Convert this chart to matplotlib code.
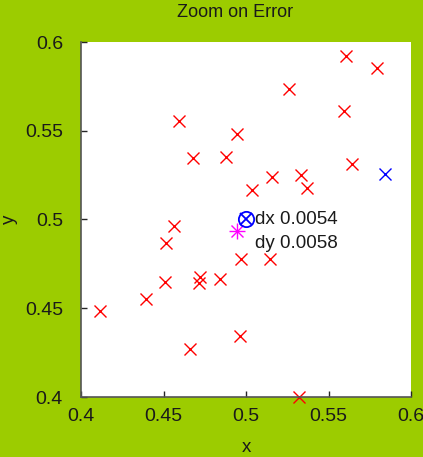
import matplotlib
matplotlib.use('Agg')
import matplotlib.pyplot as plt

# red samples
sample_x = [0.5606, 0.5794, 0.5261, 0.4594, 0.5594, 0.4945, 0.4679, 0.4879,
            0.5158, 0.5333, 0.5370, 0.5642, 0.5036, 0.4564, 0.4515, 0.4509,
            0.4721, 0.4715, 0.4842, 0.4970, 0.5145, 0.4394, 0.4115, 0.4661,
            0.4964, 0.5321]
sample_y = [0.5921, 0.5854, 0.5735, 0.5555, 0.5611, 0.5482, 0.5346, 0.5352,
            0.5239, 0.5251, 0.5177, 0.5313, 0.5166, 0.4963, 0.4868, 0.4648,
            0.4676, 0.4642, 0.4665, 0.4777, 0.4777, 0.4552, 0.4485, 0.4270,
            0.4344, 0.4000]

outlier_x, outlier_y = [0.5842], [0.5256]
estimate_x, estimate_y = [0.4945], [0.4935]
target_x, target_y = [0.5], [0.5]
dx, dy = 0.0054, 0.0058
ticks = [0.4, 0.45, 0.5, 0.55, 0.6]
tick_labels = ['0.4', '0.45', '0.5', '0.55', '0.6']

bg = '#9ccc00'
plt.rcParams['font.family'] = ['Liberation Sans', 'DejaVu Sans']

fig = plt.figure(figsize=(4.23, 4.57), dpi=100, facecolor=bg)
ax = fig.add_axes([81 / 423, 60 / 457, 330 / 423, 355 / 457])
ax.set_facecolor('white')

ax.plot(sample_x, sample_y, 'x', color='red', ms=9, mew=1, clip_on=False)
ax.plot(outlier_x, outlier_y, 'x', color='blue', ms=9, mew=1)
# asterisk made of + and x
ax.plot(estimate_x, estimate_y, '+', color='magenta', ms=11, mew=1)
ax.plot(estimate_x, estimate_y, 'x', color='magenta', ms=8, mew=1)
ax.plot(target_x, target_y, 'o', color='blue', ms=11, mew=1.3,
        markerfacecolor='none')
ax.plot(target_x, target_y, 'x', color='blue', ms=8, mew=1.3)

ax.text(target_x[0] + 0.0053, target_y[0], 'dx %.4f' % dx, va='center',
        fontsize=13.5, color='#1a1a1a')
ax.text(target_x[0] + 0.0053, target_y[0] - 0.0135, 'dy %.4f' % dy,
        va='center', fontsize=13.5, color='#1a1a1a')

ax.set_xlim(0.4, 0.6)
ax.set_ylim(0.4, 0.6)
ax.set_xticks(ticks)
ax.set_xticklabels(tick_labels)
ax.set_yticks(ticks)
ax.set_yticklabels(tick_labels)
ax.tick_params(direction='in', length=4, width=1, colors='#262626',
               labelcolor='#1a1a1a', labelsize=14)
ax.tick_params(axis='y', pad=13)
ax.tick_params(axis='x', pad=8)
for side in ['top', 'right']:
    ax.spines[side].set_visible(False)
for side in ['left', 'bottom']:
    ax.spines[side].set_color('#555555')
    ax.spines[side].set_linewidth(1.2)

ax.set_xlabel('x', fontsize=13.5, color='#1a1a1a', labelpad=10)
ax.set_ylabel('y', fontsize=13.5, color='#1a1a1a')
ax.yaxis.set_label_coords(-0.19, 0.5)
ax.set_title('Zoom on Error', fontsize=13, color='#1a1a1a', pad=18, x=0.467)

fig.savefig('out.png', dpi=100, facecolor=bg)
